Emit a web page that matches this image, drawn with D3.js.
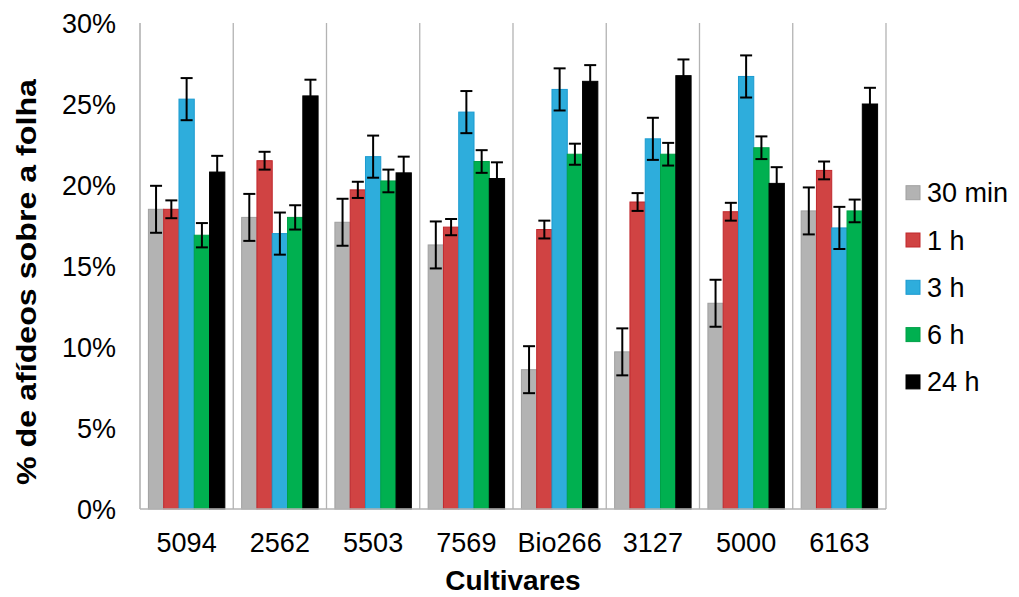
<!DOCTYPE html>
<html>
<head>
<meta charset="utf-8">
<script src="https://cdn.jsdelivr.net/npm/d3@7"></script>
<style>
  body { margin: 0; background: #fff; }
  text { font-family: "Liberation Sans", Arial, sans-serif; }
</style>
</head>
<body>
<div id="chart1"></div>
<script>
var w = 1019;
var h = 597;

// data
var cultivares = ["5094", "2562", "5503", "7569", "Bio266", "3127", "5000", "6163"];
var seriesNames = ["30 min", "1 h", "3 h", "6 h", "24 h"];
var v30min = [18.5, 18.0, 17.7, 16.3, 8.6, 9.7, 12.7, 18.4];
var v1h    = [18.5, 21.5, 19.7, 17.4, 17.25, 18.95, 18.35, 20.9];
var v3h    = [25.3, 17.0, 21.75, 24.5, 25.9, 22.85, 26.7, 17.35];
var v6h    = [16.9, 18.0, 20.25, 21.45, 21.9, 21.9, 22.3, 18.4];
var v24h   = [20.8, 25.5, 20.75, 20.4, 26.4, 26.75, 20.1, 25.0];
var e30min = [1.45, 1.45, 1.45, 1.45, 1.45, 1.45, 1.45, 1.45];
var e1h    = [0.55, 0.55, 0.5, 0.5, 0.55, 0.55, 0.55, 0.55];
var e3h    = [1.3, 1.3, 1.3, 1.3, 1.3, 1.3, 1.3, 1.3];
var e6h    = [0.75, 0.75, 0.7, 0.7, 0.65, 0.7, 0.7, 0.7];
var e24h   = [1.0, 1.0, 1.0, 1.0, 1.0, 1.0, 1.0, 1.0];
var yTicks = [0, 5, 10, 15, 20, 25, 30];

var values = [v30min, v1h, v3h, v6h, v24h];
var errors = [e30min, e1h, e3h, e6h, e24h];
var fills = ["#b3b3b3", "#d04343", "#2eaddc", "#00b050", "#000000"];
var strokes = ["#a0a0a0", "#c0282d", "#1b9ad0", "#00a047", "#000000"];

var margin = {left: 140, right: 133, top: 23, bottom: 88};
var x0 = d3.scaleBand()
           .domain(cultivares)
           .range([margin.left, w - margin.right]);
var x1 = d3.scaleBand()
           .domain(seriesNames)
           .range([0, x0.bandwidth()])
           .paddingOuter(0.55);
var yScale = d3.scaleLinear()
               .domain([0, 30])
               .range([h - margin.bottom, margin.top]);

var svg1;

function main() {
  svg1 = d3.select("#chart1")
           .append("svg")
           .attr("width", w)
           .attr("height", h);

  // category separators
  svg1.selectAll("line.sep")
      .data(cultivares)
      .enter()
      .append("line")
      .attr("class", "sep")
      .attr("x1", d => x0(d) + x0.bandwidth())
      .attr("x2", d => x0(d) + x0.bandwidth())
      .attr("y1", yScale(30))
      .attr("y2", yScale(0))
      .attr("stroke", "#b3b3b3")
      .attr("stroke-width", 1.3);

  // bars
  seriesNames.forEach(function(s, si) {
    var g = svg1.append("g");
    g.selectAll("rect")
     .data(cultivares)
     .enter()
     .append("rect")
     .attr("x", d => x0(d) + x1(s))
     .attr("y", (d, i) => yScale(values[si][i]))
     .attr("width", x1.bandwidth())
     .attr("height", (d, i) => yScale(0) - yScale(values[si][i]))
     .attr("fill", fills[si])
     .attr("stroke", strokes[si])
     .attr("stroke-width", 1);
  });

  // error bars
  seriesNames.forEach(function(s, si) {
    var g = svg1.append("g")
                .attr("stroke", "#000")
                .attr("stroke-width", 2);
    cultivares.forEach(function(c, i) {
      var cx = x0(c) + x1(s) + x1.bandwidth() / 2;
      var hi = yScale(values[si][i] + errors[si][i]);
      var lo = yScale(values[si][i] - errors[si][i]);
      g.append("line").attr("x1", cx).attr("x2", cx).attr("y1", hi).attr("y2", lo);
      g.append("line").attr("x1", cx - 6).attr("x2", cx + 6).attr("y1", hi).attr("y2", hi);
      g.append("line").attr("x1", cx - 6).attr("x2", cx + 6).attr("y1", lo).attr("y2", lo);
    });
  });

  // axes lines
  svg1.append("line")
      .attr("x1", margin.left).attr("x2", margin.left)
      .attr("y1", yScale(30)).attr("y2", yScale(0))
      .attr("stroke", "#a0a0a0").attr("stroke-width", 1.3);
  svg1.append("line")
      .attr("x1", margin.left).attr("x2", w - margin.right)
      .attr("y1", yScale(0)).attr("y2", yScale(0))
      .attr("stroke", "#b3b3b3").attr("stroke-width", 1.3);

  // y tick labels
  svg1.selectAll("text.ytick")
      .data(yTicks)
      .enter()
      .append("text")
      .attr("class", "ytick")
      .attr("x", 116)
      .attr("y", d => yScale(d) + 9.5)
      .attr("text-anchor", "end")
      .attr("font-size", "27px")
      .attr("fill", "#000")
      .text(d => d + "%");

  // x tick labels
  svg1.selectAll("text.xtick")
      .data(cultivares)
      .enter()
      .append("text")
      .attr("class", "xtick")
      .attr("x", d => x0(d) + x0.bandwidth() / 2)
      .attr("y", 552)
      .attr("text-anchor", "middle")
      .attr("font-size", "27px")
      .attr("fill", "#000")
      .text(d => d);

  // axis titles
  svg1.append("text")
      .attr("x", 513)
      .attr("y", 590)
      .attr("text-anchor", "middle")
      .attr("font-size", "28px")
      .attr("font-weight", "bold")
      .text("Cultivares");

  // y title is stretched a bit along its length in the original
  svg1.append("text")
      .attr("transform", "translate(36,282) rotate(-90) scale(1.15,1)")
      .attr("text-anchor", "middle")
      .attr("font-size", "28px")
      .attr("font-weight", "bold")
      .text("% de afídeos sobre a folha");

  // legend
  var legend = svg1.selectAll("g.legend")
                   .data(seriesNames)
                   .enter()
                   .append("g")
                   .attr("class", "legend")
                   .attr("transform", (d, i) => "translate(906," + (192.7 + i * 47.3) + ")");
  legend.append("rect")
        .attr("x", 0)
        .attr("y", -7)
        .attr("width", 14)
        .attr("height", 14)
        .attr("fill", (d, i) => fills[i])
        .attr("stroke", (d, i) => strokes[i]);
  legend.append("text")
        .attr("x", 21)
        .attr("y", 9.5)
        .attr("font-size", "27px")
        .text(d => d);
}

window.onload = function() {
  main();
};
</script>
</body>
</html>
